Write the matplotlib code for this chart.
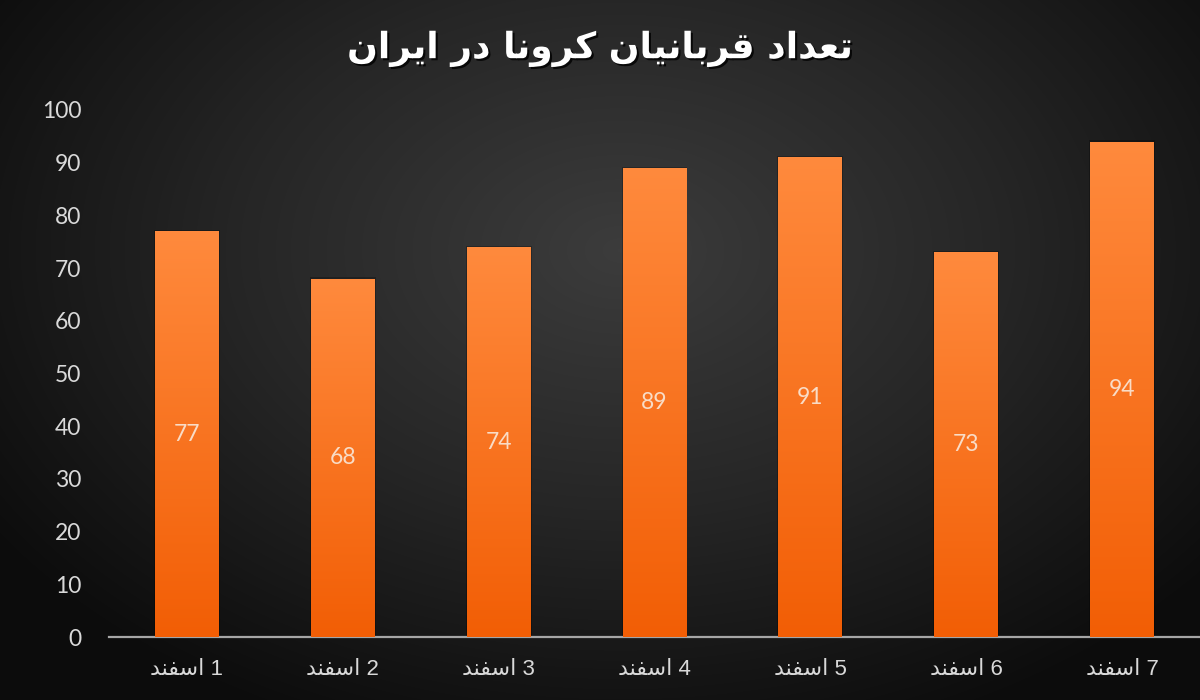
import numpy as np
import matplotlib
matplotlib.use("Agg")
from matplotlib import pyplot as plt
from matplotlib import patheffects as pe
from matplotlib.colors import LinearSegmentedColormap

# data
title_fa = "تعداد قربانیان کرونا در ایران"
days = ["1 اسفند", "2 اسفند", "3 اسفند", "4 اسفند", "5 اسفند", "6 اسفند", "7 اسفند"]
deaths = [77, 68, 74, 89, 91, 73, 94]

# matplotlib does no arabic shaping -> pick presentation forms by hand
# letter: (isolated, final, initial, medial); None = does not join the next letter
FORMS = {
    "ا": ("\uFE8D", "\uFE8E", None, None),
    "ب": ("\uFE8F", "\uFE90", "\uFE91", "\uFE92"),
    "ت": ("\uFE95", "\uFE96", "\uFE97", "\uFE98"),
    "د": ("\uFEA9", "\uFEAA", None, None),
    "ر": ("\uFEAD", "\uFEAE", None, None),
    "س": ("\uFEB1", "\uFEB2", "\uFEB3", "\uFEB4"),
    "ع": ("\uFEC9", "\uFECA", "\uFECB", "\uFECC"),
    "ف": ("\uFED1", "\uFED2", "\uFED3", "\uFED4"),
    "ق": ("\uFED5", "\uFED6", "\uFED7", "\uFED8"),
    "ن": ("\uFEE5", "\uFEE6", "\uFEE7", "\uFEE8"),
    "و": ("\uFEED", "\uFEEE", None, None),
    "ی": ("\uFBFC", "\uFBFD", "\uFBFE", "\uFBFF"),
    "ک": ("\uFB8E", "\uFB8F", "\uFB90", "\uFB91"),
}


def shape_word(w):
    out = []
    for i, c in enumerate(w):
        if c not in FORMS:
            out.append(c)
            continue
        prev = w[i - 1] if i > 0 else None
        nxt = w[i + 1] if i + 1 < len(w) else None
        jp = prev in FORMS and FORMS[prev][2] is not None
        jn = FORMS[c][2] is not None and nxt in FORMS
        if jp and jn:
            out.append(FORMS[c][3])
        elif jp:
            out.append(FORMS[c][1])
        elif jn:
            out.append(FORMS[c][2])
        else:
            out.append(FORMS[c][0])
    return "".join(out)


def fa(text):
    words = text.split(" ")
    vis = []
    for w in reversed(words):
        if any(ch in FORMS for ch in w):
            vis.append(shape_word(w)[::-1])
        else:
            vis.append(w)
    return " ".join(vis)


fig = plt.figure(figsize=(12, 7), dpi=100)

# radial dark background
bg = fig.add_axes([0, 0, 1, 1], zorder=-10)
yy, xx = np.mgrid[0:700, 0:1200]
r = np.sqrt(((xx - 620) / 760.0) ** 2 + ((yy - 250) / 520.0) ** 2)
r = np.clip(r, 0, 1)
bg_cmap = LinearSegmentedColormap.from_list("bg", ["#3c3c3c", "#262626", "#0c0c0c"])
bg.imshow(r, cmap=bg_cmap, aspect="auto", extent=[0, 1, 0, 1], vmin=0, vmax=1)
bg.axis("off")

ax = fig.add_axes([109 / 1200, 63 / 700, 1091 / 1200, 527 / 700])
ax.patch.set_alpha(0)

x = np.arange(len(days))
bars = ax.bar(x, deaths, width=0.41, color="none", edgecolor="none", zorder=3)

bar_cmap = LinearSegmentedColormap.from_list("bar", ["#f25e05", "#ff8a3d"])
grad = np.linspace(0, 1, 256).reshape(-1, 1)
for b in bars:
    x0, y0 = b.get_x(), b.get_y()
    w, h = b.get_width(), b.get_height()
    # faint shadow
    ax.add_patch(plt.Rectangle((x0 - 0.006, y0), w + 0.012, h + 0.25,
                               color="black", alpha=0.25, zorder=2, lw=0))
    im = ax.imshow(grad, cmap=bar_cmap, origin="lower", aspect="auto",
                   extent=[x0, x0 + w, y0, y0 + h], zorder=3)
    im.set_clip_path(b)
    ax.text(x0 + w / 2, y0 + h / 2, str(int(h)), ha="center", va="center",
            color="#f9dcc6", fontsize=16.5, family=["Lato", "DejaVu Sans"], zorder=4)

ax.set_xlim(-0.5, len(days) - 0.5)
ax.set_ylim(0, 100)
ax.set_yticks(range(0, 101, 10))
ax.set_xticks(x)
ax.set_xticklabels([fa(d) for d in days], family=["Liberation Sans", "DejaVu Sans"],
                   fontsize=16)
for lab in ax.get_yticklabels():
    lab.set_family(["Lato", "DejaVu Sans"])
ax.tick_params(axis="y", colors="#d9d9d9", labelsize=16.5, length=0, pad=20)
ax.tick_params(axis="x", colors="#d9d9d9", length=0, pad=16)

for s in ["top", "right", "left"]:
    ax.spines[s].set_visible(False)
ax.spines["bottom"].set_color("#a6a6a6")
ax.spines["bottom"].set_linewidth(1.6)

# title with a small drop shadow
fig.text(0.5, 1 - 49 / 700, fa(title_fa), ha="center", va="center", fontsize=26,
         fontweight="bold", color="white", family=["DejaVu Sans"],
         path_effects=[pe.withSimplePatchShadow(offset=(1.5, -1.5),
                                                shadow_rgbFace="black", alpha=0.8)])

plt.savefig("out.png", dpi=100)
